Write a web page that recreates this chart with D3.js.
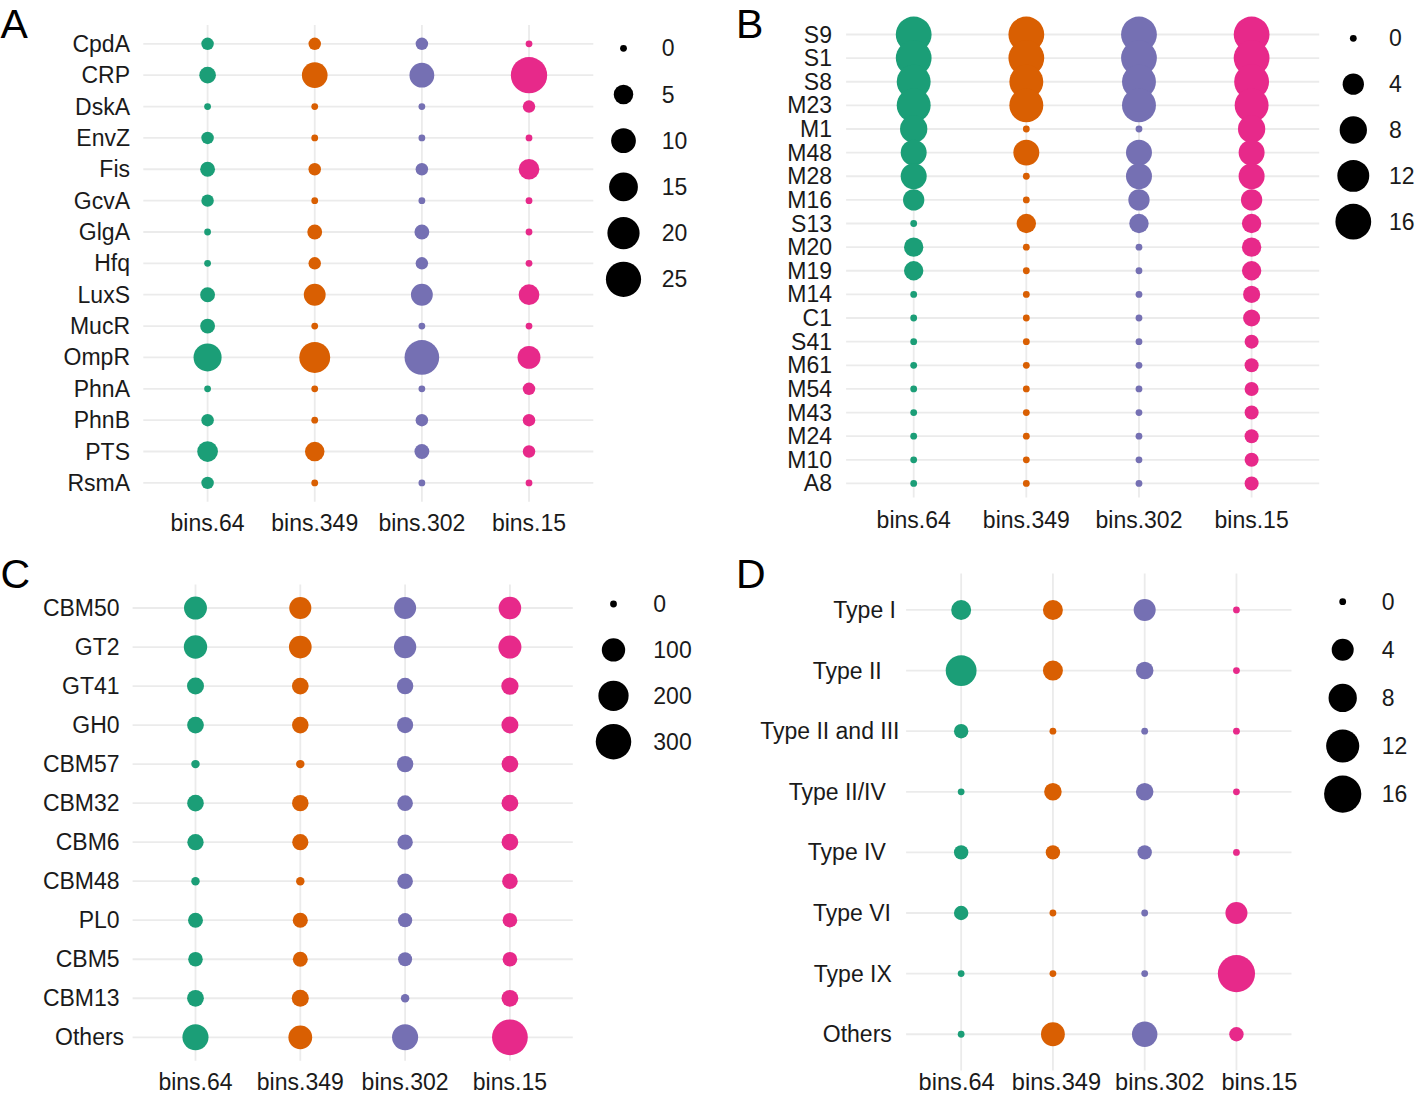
<!DOCTYPE html>
<html>
<head>
<meta charset="utf-8">
<script src="https://cdn.jsdelivr.net/npm/d3@7"></script>
<style>
  html, body { margin: 0; padding: 0; background: #ffffff; }
  svg { display: block; }
  text { font-family: "Liberation Sans", Arial, sans-serif; }
</style>
</head>
<body>
<svg id="chart" width="1416" height="1095"></svg>
<script>
// ---------------- DATA ----------------
const bins = ["bins.64", "bins.349", "bins.302", "bins.15"];
const colors = ["#1B9E77", "#D95F02", "#7570B3", "#E7298A"];

// Panel A
const catsA = ["CpdA","CRP","DskA","EnvZ","Fis","GcvA","GlgA","Hfq","LuxS","MucR","OmpR","PhnA","PhnB","PTS","RsmA"];
const valuesA = [
  [1, 1, 1, 0],
  [3, 11, 10, 27],
  [0, 0, 0, 1],
  [1, 0, 0, 0],
  [2, 1, 1, 6],
  [1, 0, 0, 0],
  [0, 2, 2, 0],
  [0, 1, 1, 0],
  [2, 7, 7, 6],
  [2, 0, 0, 0],
  [14, 18, 24, 8],
  [0, 0, 0, 1],
  [1, 0, 1, 1],
  [6, 5, 2, 1],
  [1, 0, 0, 0]
];
const breaksA = [0, 5, 10, 15, 20, 25];

// Panel B
const catsB = ["S9","S1","S8","M23","M1","M48","M28","M16","S13","M20","M19","M14","C1","S41","M61","M54","M43","M24","M10","A8"];
const valuesB = [
  [16, 16, 16, 16],
  [16, 16, 16, 16],
  [14, 14, 14, 15],
  [14, 14, 14, 14],
  [8, 0, 0, 8],
  [7, 7, 7, 7],
  [7, 0, 7, 7],
  [4, 0, 4, 4],
  [0, 3, 3, 3],
  [3, 0, 0, 3],
  [3, 0, 0, 3],
  [0, 0, 0, 2],
  [0, 0, 0, 2],
  [0, 0, 0, 1],
  [0, 0, 0, 1],
  [0, 0, 0, 1],
  [0, 0, 0, 1],
  [0, 0, 0, 1],
  [0, 0, 0, 1],
  [0, 0, 0, 1]
];
const breaksB = [0, 4, 8, 12, 16];

// Panel C
const catsC = ["CBM50","GT2","GT41","GH0","CBM57","CBM32","CBM6","CBM48","PL0","CBM5","CBM13","Others"];
const valuesC = [
  [95, 85, 85, 90],
  [100, 92, 88, 96],
  [38, 36, 34, 40],
  [36, 35, 32, 38],
  [1, 1, 34, 36],
  [35, 34, 28, 36],
  [33, 32, 27, 35],
  [1, 1, 28, 28],
  [24, 25, 20, 22],
  [22, 24, 19, 22],
  [36, 38, 1, 36],
  [135, 105, 135, 305]
];
const breaksC = [0, 100, 200, 300];

// Panel D
const catsD = ["Type I","Type II","Type II and III","Type II/IV","Type IV","Type VI","Type IX","Others"];
const valuesD = [
  [3, 3, 4, 0],
  [10, 3, 2, 0],
  [1, 0, 0, 0],
  [0, 2, 2, 0],
  [1, 1, 1, 0],
  [1, 0, 0, 4],
  [0, 0, 0, 16],
  [0, 5, 6, 1]
];
const breaksD = [0, 4, 8, 12, 16];

// ---------------- LAYOUT ----------------
const labelNudgeC = [0, 0, 0, 0, 0, 0, 0, 0, 0, 0, 0, 4.5];
const labelNudgeD = [3, -11.3, 6.5, -7.2, -7.2, -2, -1.2, -1.2];
const xLabelNudgeD = [-4.5, 3.5, 15, 23];

const panels = [
  { letter: "A", letterX: 0.5, letterY: 37.5, cats: catsA, values: valuesA, breaks: breaksA,
    xr: [143.3, 593.3], yr: [25, 501.7], sizeMax: 25, dRange: [6.8, 35.2],
    labelRight: 130, nudge: null, xNudge: null, xLabelY: 531, xFont: 23,
    legX: 623.5, legY0: 48.3, legDy: 46.2, legTx: 661.7 },
  { letter: "B", letterX: 736, letterY: 37.5, cats: catsB, values: valuesB, breaks: breaksB,
    xr: [846.1, 1319.2], yr: [20.3, 497.6], sizeMax: 16, dRange: [6.8, 35.8],
    labelRight: 832, nudge: null, xNudge: null, xLabelY: 527.5, xFont: 23,
    legX: 1353.3, legY0: 38.3, legDy: 45.85, legTx: 1389 },
  { letter: "C", letterX: 0.5, letterY: 587.5, cats: catsC, values: valuesC, breaks: breaksC,
    xr: [132.6, 572.8], yr: [584.6, 1060.7], sizeMax: 300, dRange: [6.8, 35.5],
    labelRight: 119.6, nudge: labelNudgeC, xNudge: null, xLabelY: 1089.5, xFont: 23,
    legX: 613.5, legY0: 604, legDy: 45.9, legTx: 653.3 },
  { letter: "D", letterX: 736, letterY: 588, cats: catsD, values: valuesD, breaks: breaksD,
    xr: [906.1, 1291.5], yr: [573.6, 1070.6], sizeMax: 16, dRange: [6.8, 37.2],
    labelRight: 893, nudge: labelNudgeD, xNudge: xLabelNudgeD, xLabelY: 1089.5, xFont: 23.6,
    legX: 1342.7, legY0: 601.7, legDy: 48.1, legTx: 1381.7 }
];

const FONT = 23;
const TEXT_COLOR = "#1a1a1a";
const GRID = "#EBEBEB";

const svg = d3.select("#chart");
svg.append("rect").attr("width", 1416).attr("height", 1095).attr("fill", "#ffffff");

panels.forEach(p => {
  const g = svg.append("g");
  const x = d3.scalePoint().domain(bins).range(p.xr).padding(0.6);
  const y = d3.scalePoint().domain(p.cats).range(p.yr).padding(0.6);
  const size = d3.scalePow().exponent(0.5).domain([0, p.sizeMax]).range(p.dRange);

  // grid lines
  g.append("g").selectAll("line").data(p.cats).join("line")
    .attr("x1", p.xr[0]).attr("x2", p.xr[1])
    .attr("y1", d => y(d)).attr("y2", d => y(d))
    .attr("stroke", GRID).attr("stroke-width", 1.8);
  g.append("g").selectAll("line").data(bins).join("line")
    .attr("x1", d => x(d)).attr("x2", d => x(d))
    .attr("y1", p.yr[0]).attr("y2", p.yr[1])
    .attr("stroke", GRID).attr("stroke-width", 1.8);

  // points
  const pts = [];
  p.cats.forEach((c, i) => bins.forEach((b, j) => pts.push({ cat: c, bin: b, j: j, v: p.values[i][j] })));
  g.append("g").selectAll("circle").data(pts).join("circle")
    .attr("cx", d => x(d.bin)).attr("cy", d => y(d.cat))
    .attr("r", d => size(d.v) / 2)
    .attr("fill", d => colors[d.j]);

  // y labels
  g.append("g").selectAll("text").data(p.cats).join("text")
    .attr("x", (d, i) => p.labelRight + (p.nudge ? p.nudge[i] : 0))
    .attr("y", d => y(d)).attr("dy", "0.35em")
    .attr("text-anchor", "end")
    .attr("font-size", FONT).attr("fill", TEXT_COLOR)
    .text(d => d);

  // x labels
  g.append("g").selectAll("text").data(bins).join("text")
    .attr("x", (d, i) => x(d) + (p.xNudge ? p.xNudge[i] : 0)).attr("y", p.xLabelY)
    .attr("text-anchor", "middle")
    .attr("font-size", p.xFont).attr("fill", TEXT_COLOR)
    .text(d => d);

  // legend
  const leg = g.append("g");
  leg.selectAll("circle").data(p.breaks).join("circle")
    .attr("cx", p.legX).attr("cy", (d, i) => p.legY0 + i * p.legDy)
    .attr("r", d => size(d) / 2).attr("fill", "#000");
  leg.selectAll("text").data(p.breaks).join("text")
    .attr("x", p.legTx).attr("y", (d, i) => p.legY0 + i * p.legDy).attr("dy", "0.35em")
    .attr("font-size", FONT).attr("fill", TEXT_COLOR)
    .text(d => d);

  // panel letter
  g.append("text").attr("x", p.letterX).attr("y", p.letterY)
    .attr("font-size", 41).attr("fill", "#000")
    .text(p.letter);
});
</script>
</body>
</html>
